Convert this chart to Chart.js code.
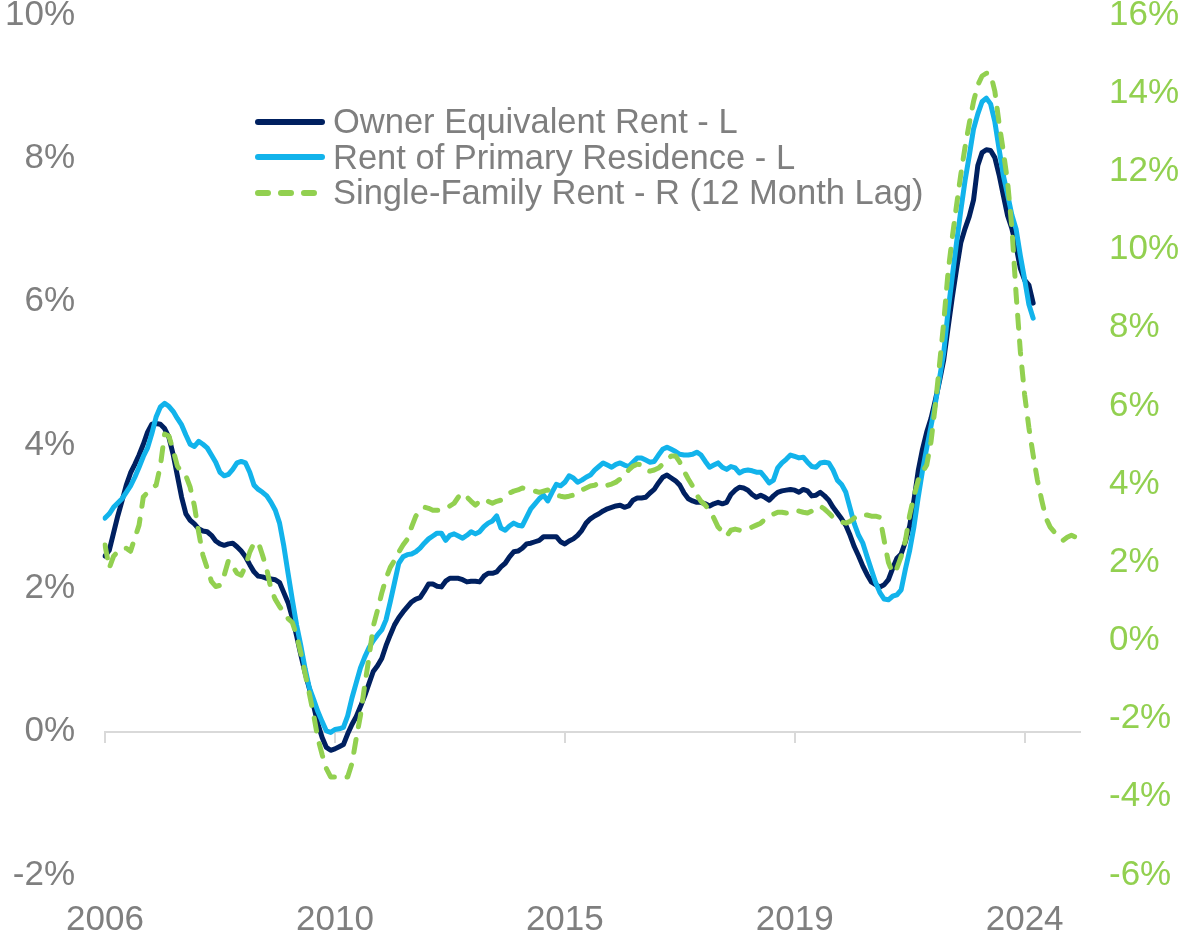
<!DOCTYPE html>
<html lang="en">
<head>
    <meta charset="UTF-8">
    <title>Rent inflation</title>
    <script src="https://cdn.jsdelivr.net/npm/chart.js"></script>
    <style>
        body { margin: 0; background: #fff; }
        #wrap { position: relative; width: 1178px; height: 933px; }
        #legend {
            position: absolute; left: 255px; top: 104px;
            font-family: 'Liberation Sans', Arial, sans-serif; font-size: 34.5px; color: #7F7F7F;
        }
        #legend .row { display: flex; align-items: center; height: 35.5px; white-space: nowrap; }
        #legend svg { margin-right: 8px; }
    </style>
</head>
<body>
<div id="wrap">
    <canvas id="rentChart"></canvas>
    <div id="legend"></div>
</div>

<script>
    // monthly YoY %, Jan 2006 onwards
    const startYear = 2006;
    const tickEvery = 54; // months between labelled ticks

    const seriesNames = ['Owner Equivalent Rent - L', 'Rent of Primary Residence - L', 'Single-Family Rent - R (12 Month Lag)'];

    const oer = [2.45,2.53,2.77,3.01,3.22,3.44,3.61,3.73,3.86,4.01,
        4.18,4.29,4.30,4.29,4.23,4.11,3.87,3.57,3.27,3.04,
        2.95,2.90,2.83,2.80,2.79,2.74,2.66,2.62,2.60,2.62,
        2.63,2.58,2.52,2.44,2.33,2.23,2.17,2.16,2.14,2.13,
        2.12,2.08,1.94,1.80,1.59,1.34,1.07,0.82,0.60,0.36,
        0.11,-0.08,-0.22,-0.26,-0.24,-0.21,-0.18,-0.03,0.10,0.21,
        0.35,0.50,0.67,0.84,0.92,1.02,1.20,1.35,1.49,1.59,
        1.67,1.74,1.81,1.85,1.87,1.96,2.06,2.06,2.03,2.02,
        2.10,2.14,2.14,2.14,2.12,2.09,2.10,2.10,2.09,2.17,
        2.21,2.21,2.23,2.30,2.35,2.44,2.51,2.52,2.56,2.62,
        2.63,2.65,2.67,2.72,2.72,2.72,2.72,2.65,2.62,2.66,
        2.69,2.74,2.81,2.91,2.97,3.01,3.04,3.08,3.11,3.13,
        3.15,3.16,3.13,3.15,3.23,3.26,3.26,3.27,3.33,3.38,
        3.47,3.55,3.58,3.54,3.50,3.44,3.33,3.25,3.22,3.20,
        3.20,3.18,3.15,3.18,3.20,3.18,3.20,3.31,3.37,3.41,
        3.40,3.37,3.31,3.27,3.30,3.27,3.23,3.29,3.34,3.36,
        3.37,3.38,3.37,3.34,3.38,3.36,3.29,3.30,3.34,3.29,
        3.23,3.13,3.05,2.97,2.88,2.74,2.58,2.45,2.31,2.19,
        2.09,2.05,2.02,2.05,2.12,2.28,2.42,2.48,2.65,2.87,
        3.23,3.64,3.94,4.18,4.37,4.62,4.89,5.19,5.63,6.06,
        6.45,6.82,7.02,7.19,7.42,7.90,8.08,8.12,8.11,8.01,
        7.77,7.48,7.20,7.02,6.77,6.46,6.30,6.23,5.98];

    const rpr = [2.98,3.04,3.13,3.19,3.25,3.34,3.43,3.55,3.69,3.84,
        3.96,4.16,4.39,4.53,4.58,4.54,4.47,4.37,4.28,4.14,
        4.01,3.98,4.05,4.01,3.96,3.86,3.76,3.62,3.57,3.59,
        3.66,3.75,3.77,3.75,3.62,3.44,3.38,3.34,3.29,3.20,
        3.09,2.91,2.59,2.21,1.84,1.49,1.20,0.88,0.61,0.45,
        0.28,0.14,0.01,-0.01,0.03,0.04,0.06,0.22,0.47,0.68,
        0.89,1.04,1.17,1.27,1.35,1.42,1.56,1.81,2.08,2.35,
        2.44,2.47,2.48,2.51,2.56,2.63,2.69,2.73,2.77,2.77,
        2.67,2.74,2.76,2.73,2.70,2.74,2.79,2.76,2.79,2.86,
        2.91,2.94,3.01,2.84,2.81,2.87,2.91,2.88,2.87,2.99,
        3.11,3.18,3.25,3.30,3.22,3.34,3.45,3.43,3.48,3.57,
        3.54,3.48,3.51,3.55,3.58,3.65,3.70,3.75,3.72,3.69,
        3.73,3.75,3.72,3.70,3.76,3.82,3.82,3.79,3.76,3.77,
        3.86,3.94,3.97,3.94,3.91,3.87,3.86,3.86,3.87,3.90,
        3.86,3.77,3.69,3.72,3.75,3.69,3.66,3.70,3.68,3.61,
        3.64,3.65,3.64,3.62,3.62,3.55,3.47,3.51,3.68,3.75,
        3.80,3.86,3.84,3.82,3.83,3.76,3.70,3.69,3.75,3.76,
        3.75,3.65,3.51,3.45,3.34,3.12,2.90,2.74,2.63,2.44,
        2.26,2.08,1.94,1.85,1.84,1.89,1.91,1.98,2.27,2.53,
        2.86,3.27,3.64,3.96,4.26,4.57,4.93,5.29,5.86,6.35,
        6.82,7.27,7.69,8.04,8.41,8.62,8.79,8.84,8.76,8.51,
        8.13,7.76,7.49,7.21,7.01,6.64,6.31,5.96,5.77];

    // right axis, already shifted 12 months
    const sfr = [2.44,1.85,2.15,2.28,2.36,2.36,2.28,2.62,2.95,3.67,
        3.79,3.90,3.97,4.46,5.28,5.23,4.87,4.46,4.31,4.21,
        3.92,3.44,2.77,2.18,1.85,1.51,1.38,1.41,1.67,2.05,
        1.90,1.72,1.67,1.90,2.26,2.49,2.51,2.18,1.82,1.31,
        1.05,0.87,0.72,0.56,0.46,0.13,-0.33,-0.85,-1.36,-1.90,
        -2.51,-2.92,-3.28,-3.49,-3.49,-3.46,-3.49,-3.49,-3.15,-2.51,
        -1.92,-1.15,-0.44,0.36,0.77,1.21,1.59,1.87,2.05,2.26,
        2.44,2.59,2.90,3.18,3.33,3.41,3.38,3.33,3.33,3.33,
        3.38,3.44,3.51,3.67,3.77,3.67,3.56,3.46,3.56,3.62,
        3.56,3.51,3.56,3.59,3.67,3.77,3.82,3.85,3.90,3.87,
        3.85,3.82,3.79,3.82,3.85,3.79,3.72,3.69,3.67,3.69,
        3.72,3.77,3.85,3.90,3.95,3.97,4.03,4.00,3.97,4.00,
        4.05,4.13,4.21,4.36,4.46,4.51,4.49,4.36,4.33,4.36,
        4.41,4.51,4.62,4.72,4.72,4.56,4.33,4.13,3.95,3.72,
        3.56,3.46,3.33,3.13,2.90,2.79,2.67,2.82,2.85,2.82,
        2.82,2.85,2.90,2.95,3.00,3.10,3.18,3.23,3.28,3.28,
        3.26,3.28,3.33,3.31,3.28,3.26,3.31,3.36,3.44,3.36,
        3.26,3.15,3.10,3.03,3.00,3.05,3.13,3.21,3.21,3.21,
        3.18,3.18,3.15,2.56,2.00,1.72,1.85,2.15,2.56,3.21,
        3.69,4.10,4.31,4.49,5.08,6.00,7.05,8.15,9.41,10.31,
        11.13,11.92,12.62,13.23,13.79,14.21,14.44,14.51,14.49,14.05,
        13.23,12.51,11.72,10.56,8.85,7.38,6.28,5.44,4.74,4.10,
        3.59,3.13,2.90,2.77,2.64,2.56,2.64,2.69,2.64,2.62];

    const months = sfr.map((v, i) => (startYear + Math.floor(i / 12)) + '-' + String(i % 12 + 1).padStart(2, '0'));

    const grey = '#7F7F7F';
    const green = '#92D050';
    const tickFont = { family: "'Liberation Sans', Arial, sans-serif", size: 35, lineHeight: 1 };
    const everyTick = s => { s.ticks = s.ticks.filter(t => t.value % tickEvery === 0); };

    const chart = new Chart(document.getElementById('rentChart'), {
        type: 'line',
        data: {
            labels: months,
            datasets: [
                { label: seriesNames[0], data: oer, xAxisID: 'x', yAxisID: 'y', borderColor: '#002060', order: 3 },
                { label: seriesNames[1], data: rpr, xAxisID: 'x', yAxisID: 'y', borderColor: '#12B3EB', order: 2 },
                { label: seriesNames[2], data: sfr, xAxisID: 'x', yAxisID: 'y2', borderColor: green, borderDash: [13, 13], order: 1 }
            ]
        },
        options: {
            responsive: true,
            maintainAspectRatio: false,
            animation: false,
            layout: { padding: 0 },
            elements: {
                point: { radius: 0 },
                line: { borderWidth: 5, tension: 0, borderCapStyle: 'round', borderJoinStyle: 'round', fill: false }
            },
            plugins: { legend: { display: false }, tooltip: { enabled: false } },
            scales: {
                x: {
                    type: 'category',
                    position: 'bottom',
                    grid: { display: false },
                    border: { display: false },
                    ticks: {
                        autoSkip: false, maxRotation: 0, padding: 20, color: grey, font: tickFont,
                        callback: function (v) { return this.getLabelForValue(v).slice(0, 4); }
                    },
                    afterBuildTicks: everyTick,
                    afterFit: s => { s.height = 58; s.paddingLeft = 0; s.paddingRight = 0; }
                },
                // axis line drawn through 0% with its tick marks
                x0: {
                    type: 'category',
                    axis: 'x',
                    position: { y: 0 },
                    grid: { display: true, drawOnChartArea: false, drawTicks: true, tickLength: 10, color: '#D9D9D9', lineWidth: 2 },
                    border: { display: true, color: '#D9D9D9', width: 2 },
                    ticks: { display: false, autoSkip: false },
                    afterBuildTicks: everyTick
                },
                y: {
                    type: 'linear',
                    position: 'left',
                    min: -2, max: 10,
                    grid: { display: false },
                    border: { display: false },
                    ticks: { stepSize: 2, padding: 22, color: grey, font: tickFont, callback: v => v + '%' },
                    afterFit: s => { s.width = 105; s.paddingTop = 15; s.paddingBottom = 0; }
                },
                y2: {
                    type: 'linear',
                    position: 'right',
                    min: -6, max: 16,
                    grid: { display: false },
                    border: { display: false },
                    ticks: { stepSize: 2, padding: 21, color: green, font: tickFont, callback: v => v + '%' },
                    afterFit: s => { s.width = 98; s.paddingTop = 15; s.paddingBottom = 0; }
                }
            }
        }
    });

    // legend sits inside the plot, built from the datasets
    const legend = document.getElementById('legend');
    chart.data.datasets.forEach(ds => {
        const dash = ds.borderDash ? ' stroke-dasharray="10 13"' : '';
        const x2 = ds.borderDash ? 60 : 67;
        const row = document.createElement('div');
        row.className = 'row';
        row.innerHTML = '<svg width="70" height="10"><line x1="3" y1="5" x2="' + x2 + '" y2="5" stroke="' + ds.borderColor +
            '" stroke-width="6" stroke-linecap="round"' + dash + '/></svg><span>' + ds.label + '</span>';
        legend.appendChild(row);
    });
</script>
</body>
</html>
